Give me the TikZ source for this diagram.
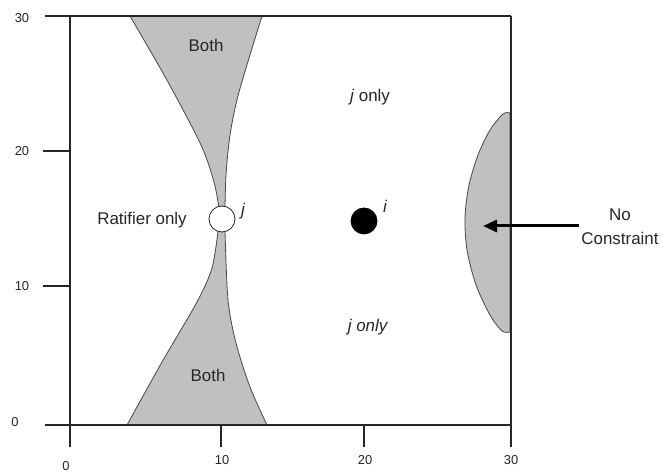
\documentclass[tikz,border=0pt]{standalone}
\usepackage{fontspec}
\setmainfont{Liberation Sans}
\usetikzlibrary{arrows.meta}
\definecolor{regfill}{HTML}{C0C0C0}
\definecolor{ink}{HTML}{262626}
\begin{document}
\begin{tikzpicture}[x=1bp,y=-1bp,
  axisline/.style={draw=ink,line width=1.3bp},
  edge/.style={draw=ink!85,line width=0.8bp},
  lbl/.style={font=\fontsize{17}{24}\selectfont,text=ink,inner sep=0pt},
  ticklbl/.style={font=\fontsize{13}{15}\selectfont,text=ink,inner sep=0pt},
  dot/.style={circle,draw=ink,line width=0.8bp,minimum size=26bp,inner sep=0pt},
  bigarrow/.style={draw=black,line width=3bp,-{Triangle[length=14bp,width=12bp]}}]
\useasboundingbox (0,0) rectangle (663,474);
% top "Both" region
\fill[regfill] plot[smooth] coordinates {(130,16) (168,82) (201,145) (214,182) (219,208)}
  -- plot[smooth] coordinates {(225,208) (226,175) (230,135) (239,92) (262,16)} -- cycle;
\draw[edge] plot[smooth] coordinates {(130,16) (168,82) (201,145) (214,182) (219,208)};
\draw[edge] plot[smooth] coordinates {(225,208) (226,175) (230,135) (239,92) (262,16)};
% bottom "Both" region
\fill[regfill] plot[smooth] coordinates {(218,231) (212,268) (197,302) (162,362) (127,425)}
  -- plot[smooth] coordinates {(267,425) (250,387) (236,343) (228,300) (225,231)} -- cycle;
\draw[edge] plot[smooth] coordinates {(218,231) (212,268) (197,302) (162,362) (127,425)};
\draw[edge] plot[smooth] coordinates {(267,425) (250,387) (236,343) (228,300) (225,231)};
% no-constraint lens
\filldraw[fill=regfill,edge] plot[smooth] coordinates {(510,113) (503,114) (490,130) (478,155) (469,185) (465,217) (467,250) (476,285) (490,315) (502,331) (510,332)} -- cycle;
% axes and frame
\draw[axisline] (45,16) -- (511,16);
\draw[axisline] (45,425) -- (511,425);
\draw[axisline] (70,16) -- (70,447);
\draw[axisline] (511,16) -- (511,447);
\draw[axisline] (43,151) -- (70,151);
\draw[axisline] (43,286) -- (70,286);
\draw[axisline] (221,425) -- (221,447);
\draw[axisline] (364,425) -- (364,447);
% tick labels
\node[ticklbl] (y30) at (22,18) {30};
\node[ticklbl] (y20) at (22,151) {20};
\node[ticklbl] (y10) at (22,286) {10};
\node[ticklbl] (y0) at (15,422) {0};
\node[ticklbl] (x0) at (66,466) {0};
\node[ticklbl] (x10) at (222,460) {10};
\node[ticklbl] (x20) at (365,460) {20};
\node[ticklbl] (x30) at (511,460) {30};
% points
\node[dot,fill=white] (j) at (222,219) {};
\node[dot,fill=black,draw=black] (i) at (364,221) {};
\node[lbl,font=\fontsize{17}{20}\selectfont\itshape] (jlab) at (243,211) {j};
\node[lbl,font=\fontsize{17}{20}\selectfont\itshape] (ilab) at (385,206) {i};
% region labels
\node[lbl] (both1) at (206,45) {Both};
\node[lbl] (both2) at (208,375) {Both};
\node[lbl] (ratifier) at (142,220) {Ratifier only};
\node[lbl] (jonly1) at (370,97) {\textit{j} only};
\node[lbl] (jonly2) at (368,327) {\textit{j only}};
\node[lbl,align=center] (nc) at (620,227) {No\\Constraint};
\coordinate (tip) at (483,226);
\draw[bigarrow] ([xshift=-2bp]nc.west |- tip) -- (tip);
\end{tikzpicture}
\end{document}
